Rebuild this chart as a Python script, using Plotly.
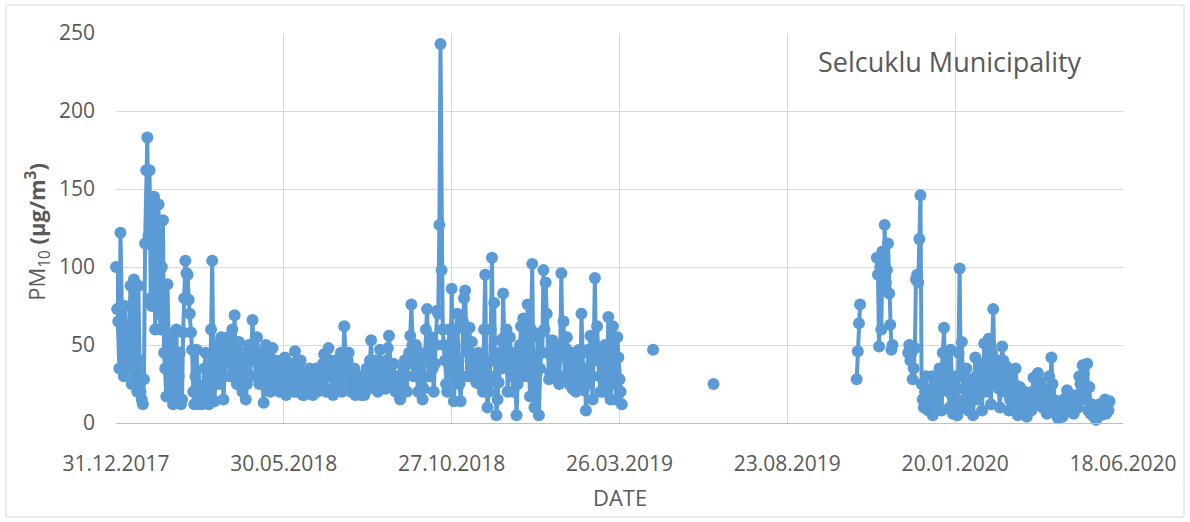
import pandas as pd
import plotly.graph_objects as go

# ---- axis ticks ---------------------------------------------------------
tick_dates = ["2017-12-31", "2018-05-30", "2018-10-27", "2019-03-26",
              "2019-08-23", "2020-01-20", "2020-06-18"]
tick_labels = ["31.12.2017", "30.05.2018", "27.10.2018", "26.03.2019",
               "23.08.2019", "20.01.2020", "18.06.2020"]
y_ticks = [0, 50, 100, 150, 200, 250]

# ---- daily PM10 (µg/m³) from 31.12.2017 to 28.03.2019 -------------------
start_2018 = "2017-12-31"
pm10_jan_feb_2018 = [100, 73, 65, 35, 122, 75, 45, 30, 75, 50, 35, 45, 60, 88, 25,
                     40, 92, 55, 30, 20, 88, 40, 20, 15, 12, 28, 115, 162, 183, 120,
                     162, 80, 75, 113, 145, 60, 80, 130, 140, 70, 60, 100, 130, 45, 35,
                     17, 89, 50, 20, 30, 55, 12, 15, 58, 60, 20, 30, 45, 12, 15]
pm10_mar_apr_2018 = [58, 80, 104, 96, 95, 79, 70, 58, 47, 20, 12, 30, 47, 25, 12,
                     13, 14, 12, 20, 35, 45, 20, 14, 12, 15, 60, 104, 40, 14, 30,
                     45, 50, 25, 38, 55, 45, 15, 30, 40, 50, 55, 42, 30, 45, 60,
                     35, 69, 40, 25, 38, 52, 45, 30, 20, 45, 35, 15, 25, 40, 50]
pm10_may_jun_2018 = [30, 45, 66, 50, 40, 30, 55, 40, 25, 35, 45, 25, 13, 30, 50,
                     42, 30, 38, 20, 28, 48, 35, 25, 40, 35, 28, 20, 32, 40, 25,
                     28, 42, 18, 30, 35, 25, 22, 38, 30, 20, 46, 30, 20, 28, 35,
                     40, 25, 18, 18, 32, 30, 22, 22, 35, 28, 20, 18, 30, 26, 35]
pm10_jul_aug_2018 = [20, 28, 35, 22, 25, 38, 44, 30, 20, 35, 48, 40, 30, 22, 18,
                     28, 40, 32, 25, 30, 35, 45, 20, 38, 62, 45, 30, 40, 45, 25,
                     20, 22, 28, 35, 18, 22, 25, 30, 20, 18, 30, 22, 18, 25, 35,
                     28, 22, 40, 53, 35, 28, 33, 40, 25, 20, 30, 47, 38, 25, 32]
pm10_sep_oct_2018 = [30, 22, 40, 48, 56, 35, 25, 30, 38, 28, 20, 25, 30, 18, 15,
                     20, 25, 35, 40, 30, 20, 38, 45, 56, 76, 50, 30, 40, 50, 35,
                     20, 30, 45, 25, 15, 22, 40, 60, 73, 45, 30, 40, 55, 35, 20,
                     38, 50, 72, 70, 127, 243, 98, 60, 50, 40, 25, 20, 45, 60, 35]
pm10_nov_dec_2018 = [86, 50, 14, 30, 60, 70, 40, 25, 14, 30, 65, 80, 85, 50, 30,
                     45, 61, 35, 52, 40, 32, 28, 26, 35, 45, 25, 30, 40, 20, 60,
                     95, 30, 10, 20, 26, 60, 106, 40, 77, 30, 5, 15, 26, 45, 53,
                     35, 83, 55, 40, 60, 20, 35, 55, 45, 30, 20, 45, 30, 5, 25]
pm10_jan_feb_2019 = [40, 50, 62, 35, 67, 45, 30, 55, 76, 40, 17, 60, 102, 30, 10,
                     25, 40, 55, 5, 35, 58, 45, 98, 60, 90, 70, 45, 28, 32, 45,
                     53, 40, 36, 50, 40, 30, 25, 45, 96, 48, 65, 30, 48, 55, 32,
                     25, 36, 45, 22, 30, 38, 20, 26, 40, 47, 30, 70, 45, 21, 35]
pm10_mar_2019 = [8, 25, 47, 35, 56, 30, 15, 50, 93, 40, 62, 45, 30, 20, 45,
                 35, 20, 50, 40, 25, 68, 40, 15, 30, 62, 45, 25, 15, 55, 42,
                 28, 20, 12]

# ---- single measurements in spring / summer 2019 ------------------------
single_dates = ["2019-04-25", "2019-06-18"]
single_values = [47, 25]

# ---- daily values, autumn 2019 campaigns --------------------------------
start_oct_2019 = "2019-10-24"
pm10_oct_2019 = [28, 46, 64, 76]
start_nov_2019 = "2019-11-11"
pm10_nov_2019 = [106, 95, 49, 100, 60, 110, 85, 127, 90, 98, 115, 83, 63, 47, 50]
start_dec_2019 = "2019-12-09"
pm10_dec_2019 = [45, 50, 40, 45, 28, 35, 48, 92, 95, 90, 118, 146]

# ---- daily values from 21.12.2019 to 06.06.2020 -------------------------
start_2020 = "2019-12-21"
pm10_winter_2020 = [25, 15, 10, 20, 30, 12, 8, 15, 22, 30, 5, 18, 28, 22, 12,
                    20, 35, 25, 8, 45, 61, 28, 40, 35, 20, 10, 47, 18, 6, 12,
                    30, 15, 5, 45, 99, 30, 52, 22, 10, 15, 35, 20, 8, 12, 28,
                    18, 5, 25, 42, 30, 15, 20, 38, 25, 8, 30, 51, 35, 20, 30]
pm10_spring_2020 = [54, 30, 12, 45, 73, 40, 25, 30, 40, 22, 10, 35, 49, 40, 20,
                    28, 36, 20, 8, 15, 30, 20, 12, 25, 35, 20, 5, 12, 23, 15,
                    10, 18, 20, 10, 4, 12, 18, 15, 8, 20, 29, 18, 12, 20, 32,
                    15, 26, 20, 10, 18, 22, 15, 6, 12, 30, 20, 42, 25, 15, 10]
pm10_summer_2020 = [8, 5, 3, 8, 12, 6, 4, 15, 10, 12, 21, 12, 8, 10, 18,
                    8, 6, 12, 16, 18, 10, 30, 25, 28, 37, 32, 20, 15, 38, 8,
                    23, 6, 12, 10, 4, 4, 2, 8, 6, 12, 5, 8, 11, 12, 15,
                    6, 10, 8, 14]


def daily(start, values):
    dates = list(pd.date_range(start, periods=len(values), freq="D"))
    return dates, list(values)


seg_2018 = daily(start_2018,
                 pm10_jan_feb_2018 + pm10_mar_apr_2018 + pm10_may_jun_2018
                 + pm10_jul_aug_2018 + pm10_sep_oct_2018 + pm10_nov_dec_2018
                 + pm10_jan_feb_2019 + pm10_mar_2019)
seg_single_1 = ([pd.Timestamp(single_dates[0])], [single_values[0]])
seg_single_2 = ([pd.Timestamp(single_dates[1])], [single_values[1]])
seg_oct = daily(start_oct_2019, pm10_oct_2019)
seg_nov = daily(start_nov_2019, pm10_nov_2019)
seg_2020 = daily(start_dec_2019,
                 pm10_dec_2019 + pm10_winter_2020 + pm10_spring_2020 + pm10_summer_2020)

x_all, y_all = [], []
for dates, vals in [seg_2018, seg_single_1, seg_single_2, seg_oct, seg_nov, seg_2020]:
    if x_all:
        # a null value breaks the line between measurement periods
        x_all.append(dates[0] - pd.Timedelta(hours=12))
        y_all.append(None)
    x_all += dates
    y_all += vals

blue = "#5B9BD5"
grey_text = "#595959"
font_family = "Open Sans, Arial, sans-serif"

fig = go.Figure(go.Scatter(
    x=x_all, y=y_all, mode="lines+markers",
    line=dict(color=blue, width=4),
    marker=dict(color=blue, size=12),
    connectgaps=False, cliponaxis=False, showlegend=False,
))

fig.update_layout(
    width=1190, height=522,
    margin=dict(l=116, r=67, t=33, b=99),
    paper_bgcolor="white", plot_bgcolor="white",
    font=dict(family=font_family, color=grey_text),
    xaxis=dict(
        type="date", range=[tick_dates[0], tick_dates[-1]],
        tickvals=tick_dates, ticktext=tick_labels,
        showgrid=True, gridcolor="#d9d9d9", gridwidth=1,
        showline=True, linecolor="#bfbfbf", linewidth=1,
        zeroline=False, ticks="", ticklabelstandoff=22,
        tickfont=dict(size=21, color=grey_text),
    ),
    yaxis=dict(
        range=[0, 250], tickvals=y_ticks,
        showgrid=True, gridcolor="#d9d9d9", gridwidth=1,
        zeroline=False, showline=False, ticks="", ticklabelstandoff=20,
        tickfont=dict(size=21, color=grey_text),
    ),
    annotations=[
        dict(text="DATE", xref="paper", yref="paper", x=0.5005, y=-0.19,
             xanchor="center", yanchor="middle", showarrow=False,
             font=dict(size=22, color=grey_text)),
        dict(text="PM<sub>10</sub> <b>(µg/m<sup>3</sup>)</b>", xref="paper", yref="paper",
             x=-0.0775, y=0.49, textangle=-90, xanchor="center", yanchor="middle",
             showarrow=False, font=dict(size=22, color=grey_text)),
        dict(text="Selcuklu Municipality", xref="paper", yref="paper",
             x=0.828, y=0.926, xanchor="center", yanchor="middle", showarrow=False,
             font=dict(size=27, color=grey_text)),
    ],
    shapes=[
        dict(type="rect", xref="paper", yref="paper",
             x0=-0.1092, x1=1.0606, y0=-0.241, y1=1.0718,
             line=dict(color="#d9d9d9", width=1), fillcolor="rgba(0,0,0,0)", layer="below"),
    ],
)

fig.write_html("out.html")
